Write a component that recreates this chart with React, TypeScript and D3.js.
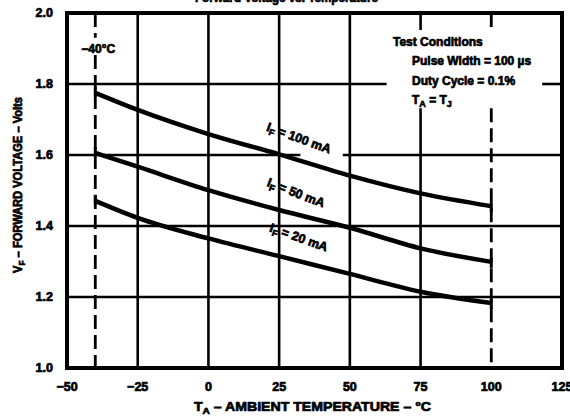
import React from "react";
import * as d3 from "d3";

const temps = [-40, -25, 0, 25, 50, 75, 100];
const vf100 = [1.775, 1.727, 1.659, 1.602, 1.542, 1.492, 1.456];
const vf50 = [1.606, 1.567, 1.501, 1.445, 1.395, 1.337, 1.299];
const vf20 = [1.471, 1.423, 1.365, 1.315, 1.265, 1.215, 1.183];
const xTicks = [-50, -25, 0, 25, 50, 75, 100, 125];
const xTickLabels = ["\u221250", "\u221225", "0", "25", "50", "75", "100", "125"];
const yTicks = [1.0, 1.2, 1.4, 1.6, 1.8, 2.0];
const yTickLabels = ["1.0", "1.2", "1.4", "1.6", "1.8", "2.0"];
const solidV = [-25, 0, 25, 50, 75];
const dashedV = [-40, 100];
const gridH = [1.2, 1.4, 1.6, 1.8];
const seriesLabels = ["100 mA", "50 mA", "20 mA"];

const W = 570, H = 417;
const FONT = "'Liberation Sans', Arial, sans-serif";

export default function App() {
  const x = d3.scaleLinear().domain([-50, 125]).range([67, 562]);
  const y = d3.scaleLinear().domain([1.0, 2.0]).range([368, 13]);
  const line = d3
    .line<[number, number]>()
    .x((d) => x(d[0]))
    .y((d) => y(d[1]))
    .curve(d3.curveMonotoneX);

  const series = [vf100, vf50, vf20];

  // gaps (domain units) where lines are interrupted by text
  const hGaps: Record<string, [number, number][]> = {
    "1.8": [[63, 118]],
    "1.6": [[32.5, 47.5]],
  };
  const vGaps: Record<string, [number, number][]> = {
    "75": [[1.732, 1.952]],
    "100": [[1.732, 1.952]],
    "-40": [[1.882, 1.93]],
  };

  const segs = (lo: number, hi: number, gaps: [number, number][] = []) => {
    const out: [number, number][] = [];
    let s = lo;
    gaps
      .slice()
      .sort((a, b) => a[0] - b[0])
      .forEach(([a, b]) => {
        out.push([s, a]);
        s = b;
      });
    out.push([s, hi]);
    return out;
  };

  const txt = {
    fontFamily: FONT,
    fontWeight: 700,
    fill: "#000",
    stroke: "#000",
    strokeWidth: 0.7,
  } as const;

  const labelPos = [
    { t: 32, v: 1.648, a: 20 },
    { t: 31, v: 1.494, a: 21 },
    { t: 32, v: 1.368, a: 19.5 },
  ];

  return (
    <svg
      width={W}
      height={H}
      style={{ position: "absolute", left: 0, top: 0, background: "#fff" }}
    >
      <rect x={0} y={0} width={W} height={H} fill="#fff" />
      {/* clipped title */}
      <text
        x={195}
        y={2}
        textLength={183}
        lengthAdjust="spacingAndGlyphs"
        fontSize={13}
        {...txt}
      >
        Forward Voltage vs. Temperature
      </text>

      {/* horizontal grid */}
      {gridH.map((v) =>
        segs(-50, 125, hGaps[String(v)]).map(([a, b], i) => (
          <line
            key={`h${v}-${i}`}
            x1={x(a)}
            x2={x(b)}
            y1={y(v)}
            y2={y(v)}
            stroke="#000"
            strokeWidth={2.6}
          />
        ))
      )}
      {/* solid vertical grid */}
      {solidV.map((t) =>
        segs(1.0, 2.0, vGaps[String(t)]).map(([a, b], i) => (
          <line
            key={`v${t}-${i}`}
            x1={x(t)}
            x2={x(t)}
            y1={y(a)}
            y2={y(b)}
            stroke="#000"
            strokeWidth={2.6}
          />
        ))
      )}
      {/* dashed vertical lines */}
      {dashedV.map((t) =>
        segs(1.0, 2.0, vGaps[String(t)]).map(([a, b], i) => (
          <line
            key={`d${t}-${i}`}
            x1={x(t)}
            x2={x(t)}
            y1={y(b)}
            y2={y(a)}
            stroke="#000"
            strokeWidth={2.8}
            strokeDasharray="14 6"
          />
        ))
      )}

      {/* curves */}
      {series.map((vals, si) => {
        const pts = temps.map((t, i) => [t, vals[i]] as [number, number]);
        const first = pts[0];
        const last = pts[pts.length - 1];
        return (
          <g key={`s${si}`}>
            <path
              d={line(pts) || ""}
              fill="none"
              stroke="#000"
              strokeWidth={4.5}
              strokeLinejoin="round"
            />
            <line
              x1={x(first[0])}
              x2={x(first[0])}
              y1={y(first[1]) - 6}
              y2={y(first[1]) + 4}
              stroke="#000"
              strokeWidth={3}
            />
            <line
              x1={x(last[0])}
              x2={x(last[0])}
              y1={y(last[1]) - 4}
              y2={y(last[1]) + 6}
              stroke="#000"
              strokeWidth={3}
            />
          </g>
        );
      })}

      {/* curve labels */}
      {seriesLabels.map((lab, i) => {
        const p = labelPos[i];
        return (
          <text
            key={`lab${i}`}
            transform={`translate(${x(p.t)},${y(p.v)}) rotate(${p.a})`}
            textAnchor="middle"
            dy="0.35em"
            fontSize={12.5}
            {...txt}
          >
            I
            <tspan fontSize={9} dy={3}>
              F
            </tspan>
            <tspan dy={-3}>{` = ${lab}`}</tspan>
          </text>
        );
      })}

      {/* border */}
      <rect
        x={x(-50)}
        y={y(2.0)}
        width={x(125) - x(-50)}
        height={y(1.0) - y(2.0)}
        fill="none"
        stroke="#000"
        strokeWidth={4}
      />

      {/* -40°C label */}
      <text x={x(-40) + 3} y={53} textAnchor="middle" fontSize={12} {...txt}>
        {"\u221240\u00b0C"}
      </text>

      {/* Test conditions */}
      <g fontSize={12} {...txt}>
        <text x={393} y={46}>Test Conditions</text>
        <text x={412} y={65}>{"Pulse Width = 100 \u00b5s"}</text>
        <text x={412} y={85}>Duty Cycle = 0.1%</text>
        <text x={412} y={104}>
          T<tspan fontSize={9} dy={3}>A</tspan>
          <tspan dy={-3}> = T</tspan>
          <tspan fontSize={9} dy={3}>J</tspan>
        </text>
      </g>

      {/* y tick labels */}
      {yTicks.map((v, i) => (
        <text
          key={`yt${v}`}
          x={53}
          y={y(v)}
          dy="0.35em"
          textAnchor="end"
          fontSize={12.5}
          {...txt}
        >
          {yTickLabels[i]}
        </text>
      ))}
      {/* x tick labels */}
      {xTicks.map((t, i) => (
        <text
          key={`xt${t}`}
          x={x(t)}
          y={391}
          textAnchor="middle"
          fontSize={12.5}
          {...txt}
        >
          {xTickLabels[i]}
        </text>
      ))}

      {/* axis titles */}
      <text
        x={194}
        y={411}
        textLength={237}
        lengthAdjust="spacingAndGlyphs"
        fontSize={12.5}
        {...txt}
      >
        T<tspan fontSize={9} dy={3}>A</tspan>
        <tspan dy={-3}>{" \u2013 AMBIENT TEMPERATURE \u2013 \u00b0C"}</tspan>
      </text>
      <text
        transform={`translate(22,${185}) rotate(-90)`}
        textAnchor="middle"
        fontSize={12}
        textLength={176}
        lengthAdjust="spacingAndGlyphs"
        {...txt}
      >
        V<tspan fontSize={9} dy={3}>F</tspan>
        <tspan dy={-3}>{" \u2013 FORWARD VOLTAGE \u2013 Volts"}</tspan>
      </text>
    </svg>
  );
}
